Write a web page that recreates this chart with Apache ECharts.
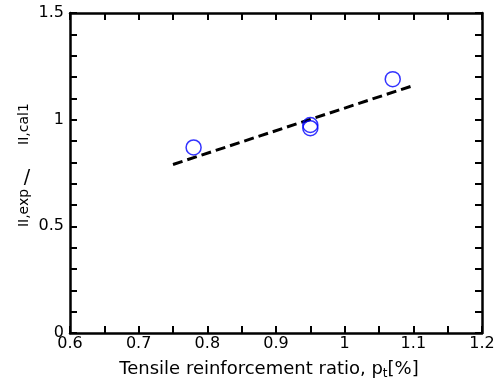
<!DOCTYPE html>
<html>
<head>
<meta charset="utf-8">
<script src="https://cdn.jsdelivr.net/npm/echarts@6/dist/echarts.min.js"></script>
<style>html,body{margin:0;padding:0;background:#fff;}#c{width:501px;height:389px;}</style>
</head>
<body>
<div id="c"></div>
<script>
// data
var xTicks = [0.6, 0.7, 0.8, 0.9, 1, 1.1, 1.2];
var yTicks = [0, 0.5, 1, 1.5];
var expX = [0.78, 0.95, 0.95, 1.07];
var expY = [0.87, 0.975, 0.96, 1.19];
var fitX = [0.75, 1.1];
var fitY = [0.79, 1.16];

var font = 'DejaVu Sans';
var chart = echarts.init(document.getElementById('c'), null, {renderer: 'canvas'});
function pairs(a, b) { return a.map(function (v, i) { return [v, b[i]]; }); }
function xFmt(v) {
  var n = Math.round(v * 10) / 10;
  return xTicks.indexOf(n) >= 0 ? String(n) : '';
}
function yFmt(v) {
  var r = Math.round(v * 10) / 10;
  return yTicks.indexOf(r) >= 0 ? String(r) : '';
}
function axisLine() { return {show: true, onZero: false, lineStyle: {color: '#000', width: 2.5}}; }
function axisTick() { return {show: true, inside: true, length: 7, lineStyle: {color: '#000', width: 2}}; }
function minorTick() { return {show: true, splitNumber: 2, length: 7, lineStyle: {color: '#000', width: 2}}; }
chart.setOption({
  animation: false,
  backgroundColor: '#fff',
  grid: {left: 70, right: 19, top: 13, bottom: 56, containLabel: false},
  xAxis: [{
    type: 'value', min: 0.6, max: 1.2, interval: 0.1, position: 'bottom',
    axisLine: axisLine(), axisTick: axisTick(), minorTick: minorTick(), splitLine: {show: false},
    axisLabel: {formatter: xFmt, color: '#000', fontFamily: font, fontSize: 16, margin: 3},
    name: 'Tensile reinforcement ratio, p{s|t}[%]', nameLocation: 'middle', nameGap: 26,
    nameTextStyle: {color: '#000', fontFamily: font, fontSize: 18, padding: [0, 14, 0, 0],
      rich: {s: {fontFamily: font, fontSize: 12, verticalAlign: 'bottom', padding: [9, 0, 0, 0], color: '#000'}}}
  }, {
    type: 'value', min: 0.6, max: 1.2, interval: 0.1, position: 'top',
    axisLine: axisLine(), axisTick: axisTick(), minorTick: minorTick(), splitLine: {show: false}, axisLabel: {show: false}
  }],
  yAxis: [{
    type: 'value', min: 0, max: 1.5, interval: 0.1, position: 'left',
    axisLine: axisLine(), axisTick: axisTick(), splitLine: {show: false},
    axisLabel: {formatter: yFmt, color: '#000', fontFamily: font, fontSize: 16, margin: 6}
  }, {
    type: 'value', min: 0, max: 1.5, interval: 0.1, position: 'right',
    axisLine: axisLine(), axisTick: axisTick(), splitLine: {show: false}, axisLabel: {show: false}
  }],
  graphic: [
    {type: 'text', x: 24, y: 208, rotation: Math.PI / 2,
      style: {text: 'II,exp', fontFamily: font, fontSize: 14, fill: '#000', textAlign: 'center', textVerticalAlign: 'middle'}},
    {type: 'text', x: 27, y: 178,
      style: {text: '/', fontFamily: font, fontSize: 19, fill: '#000', textAlign: 'center', textVerticalAlign: 'middle'}},
    {type: 'text', x: 24, y: 124, rotation: Math.PI / 2,
      style: {text: 'II,cal1', fontFamily: font, fontSize: 14, fill: '#000', textAlign: 'center', textVerticalAlign: 'middle'}}
  ],
  series: [{
    type: 'line', data: pairs(fitX, fitY), showSymbol: false, symbol: 'none',
    lineStyle: {color: '#000', width: 3, type: [10, 5]}, z: 2
  }, {
    type: 'scatter', data: pairs(expX, expY), symbol: 'circle', symbolSize: 15,
    itemStyle: {color: 'rgba(255,255,255,0)', borderColor: '#0000ff', borderWidth: 1.5}, z: 3
  }]
});
</script>
</body>
</html>
